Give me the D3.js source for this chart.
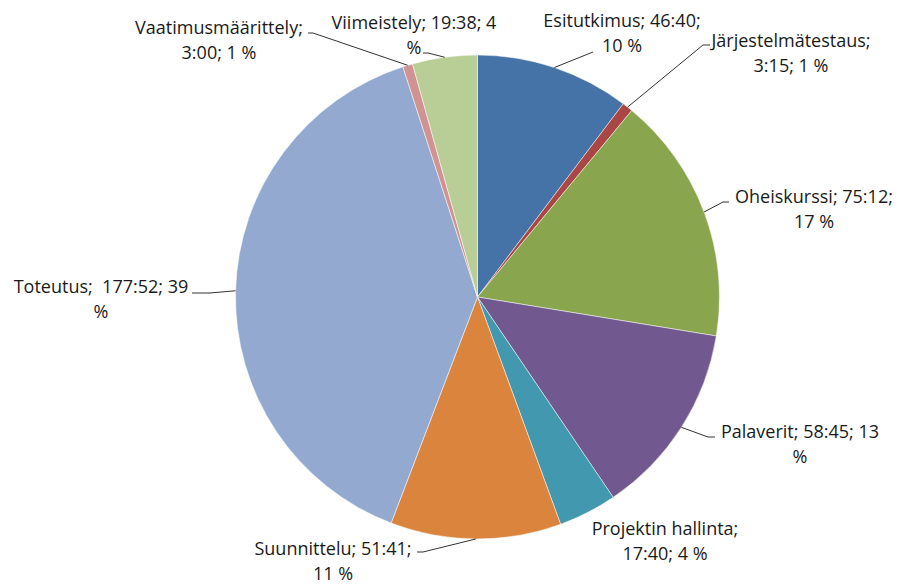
<!DOCTYPE html>
<html>
<head>
<meta charset="utf-8">
<script src="https://cdn.jsdelivr.net/npm/d3@7"></script>
<style>
  html, body { margin: 0; padding: 0; background: #fff; }
  svg text { font-family: "Open Sans", "Noto Sans", "Liberation Sans", sans-serif; font-size: 18px; fill: #1a1a1a; white-space: pre; }
</style>
</head>
<body>
<svg id="chart" width="900" height="585"></svg>
<script>
// Data (time spent per phase, hh:mm as total minutes)
const categories = ["Esitutkimus", "Järjestelmätestaus", "Oheiskurssi", "Palaverit", "Projektin hallinta", "Suunnittelu", "Toteutus", "Vaatimusmäärittely", "Viimeistely"];
const timeLabels = ["46:40", "3:15", "75:12", "58:45", "17:40", "51:41", "177:52", "3:00", "19:38"];
const minutes = [46 + 40/60, 3 + 15/60, 75 + 12/60, 58 + 45/60, 17 + 40/60, 51 + 41/60, 177 + 52/60, 3, 19 + 38/60];
const percentLabels = ["10 %", "1 %", "17 %", "13 %", "4 %", "11 %", "39 %", "1 %", "4 %"];
const colors = ["#4572A7", "#AA4643", "#89A54E", "#71588F", "#4198AF", "#DB843D", "#93A9CF", "#D19392", "#B9CD96"];

// Label layout (wrapped lines as Excel shows them, line centre x, first baseline, leader elbow)
const labelLayout = [
  { lines: [["Esitutkimus; 46:40;", 622], ["10 %", 622]], y: 27, leader: [[593, 52]] },
  { lines: [["Järjestelmätestaus;", 791], ["3:15; 1 %", 791]], y: 47, leader: [[710, 45], [703, 45]] },
  { lines: [["Oheiskurssi; 75:12;", 814], ["17 %", 814]], y: 203, leader: [[729, 202], [723, 202]] },
  { lines: [["Palaverit; 58:45; 13", 800], ["%", 800]], y: 438, leader: [[715, 437], [708, 437]] },
  { lines: [["Projektin hallinta;", 665], ["17:40; 4 %", 665]], y: 535, leader: null },
  { lines: [["Suunnittelu; 51:41;", 333], ["11 %", 333]], y: 555, leader: [[417, 552], [423, 552]] },
  { lines: [["Toteutus;  177:52; 39", 101], ["%", 101]], y: 293, leader: [[192, 293], [210, 293]] },
  { lines: [["Vaatimusmäärittely;", 219], ["3:00; 1 %", 219]], y: 34, leader: [[308, 33], [313, 33]] },
  { lines: [["Viimeistely; 19:38; 4", 414], ["%", 414]], y: 29, leader: [[423, 53], [428, 53]] }
];

const svg = d3.select("#chart");
const cx = 477.5, cy = 297, radius = 242;
const lineGap = 25;

const pie = d3.pie().sort(null).value(d => d);
const arcs = pie(minutes);
const arc = d3.arc().innerRadius(0).outerRadius(radius);

const g = svg.append("g").attr("transform", `translate(${cx},${cy})`);
g.selectAll("path.slice")
  .data(arcs)
  .join("path")
  .attr("class", "slice")
  .attr("d", arc)
  .attr("fill", (d, i) => colors[i])
  .attr("stroke", "#fff")
  .attr("stroke-width", 0.5);

// leader lines
const lineGen = d3.line();
arcs.forEach((a, i) => {
  const L = labelLayout[i];
  if (!L.leader) return;
  const mid = (a.startAngle + a.endAngle) / 2;
  const ex = cx + radius * Math.sin(mid);
  const ey = cy - radius * Math.cos(mid);
  const pts = L.leader.concat([[ex, ey]]);
  svg.append("path")
    .attr("d", lineGen(pts))
    .attr("fill", "none")
    .attr("stroke", "#333")
    .attr("stroke-width", 1);
});

// labels
labelLayout.forEach((L, i) => {
  const t = svg.append("text").attr("text-anchor", "middle");
  L.lines.forEach((ln, k) => {
    t.append("tspan").attr("x", ln[1]).attr("y", L.y + k * lineGap).text(ln[0]);
  });
});
</script>
</body>
</html>
